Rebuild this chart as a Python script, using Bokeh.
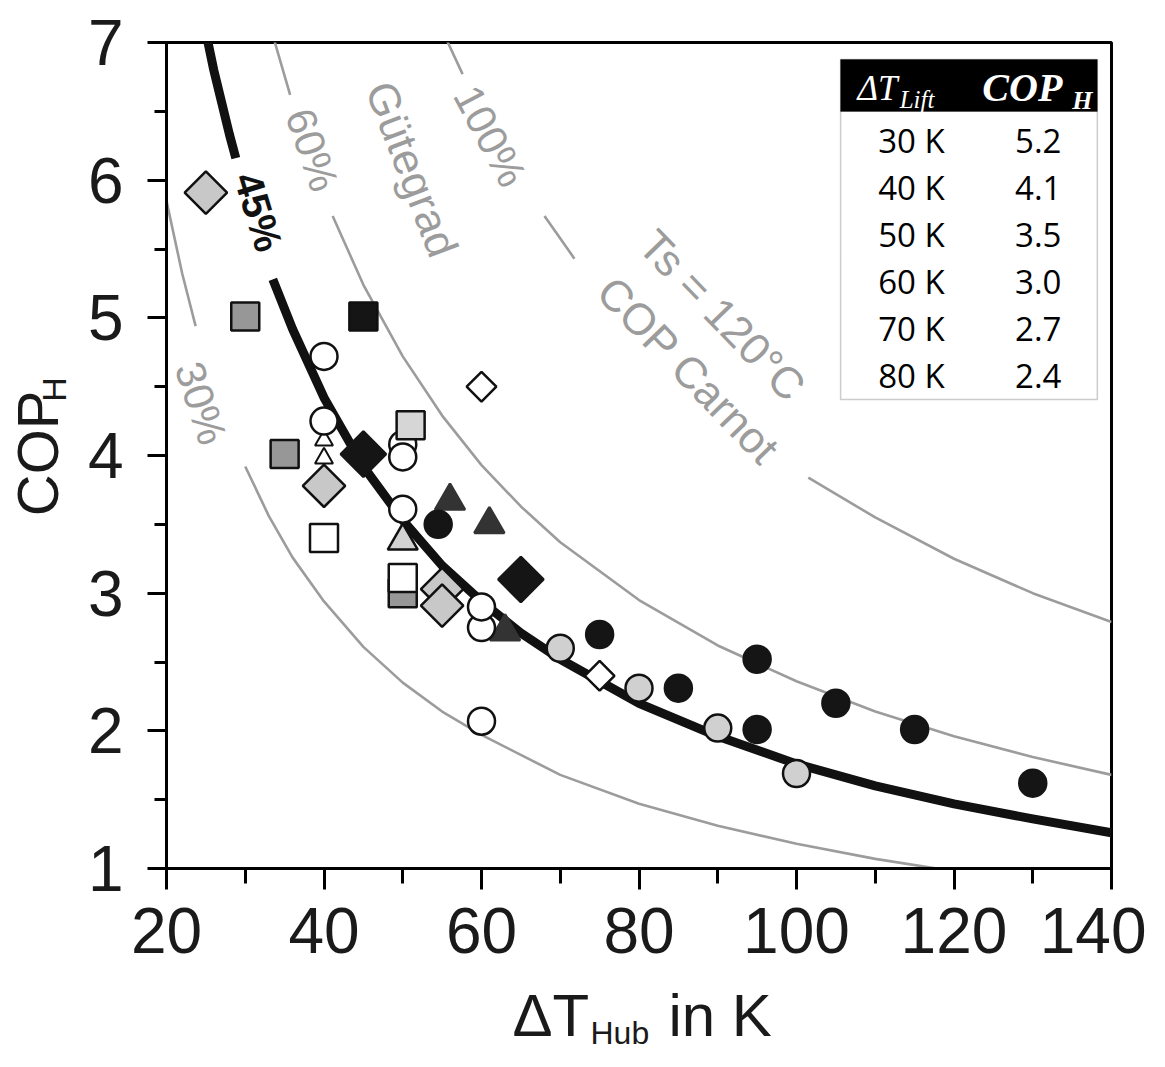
import math
from bokeh.plotting import figure
from bokeh.layouts import column, row
from bokeh.models import ColumnDataSource, Label, BoxAnnotation, SingleIntervalTicker, Range1d
from bokeh.core.properties import value
from bokeh.embed import file_html
from bokeh.resources import INLINE

nan = float("nan")

# ---- Guetegrad curves (Ts = 120 C); NaN marks a gap left for a label
eta30_x = [20, 22, 23.7, 26, 30, 33, 36, 40, 45, 50, 55, 60, 70, 80, 90, 100, 110, 120, 130, 140]
eta30_y = [5.85, 5.32, 4.94, nan, 3.92, 3.56, 3.26, 2.94, 2.61, 2.35, 2.14, 1.97, 1.68, 1.47, 1.31, 1.18, 1.07, 0.98, 0.90, 0.84]

eta45_x = [20, 22, 24, 26, 28, 28.8, 31, 33.5, 36, 40, 45, 50, 55, 60, 65, 70, 80, 90, 100, 110, 120, 130, 140]
eta45_y = [8.8, 8.0, 7.35, 6.8, 6.33, 6.16, nan, 5.28, 4.92, 4.42, 3.92, 3.53, 3.2, 2.94, 2.71, 2.52, 2.2, 1.96, 1.76, 1.6, 1.47, 1.36, 1.26]

eta60_x = [33, 35.7, 38, 41.1, 45, 50, 55, 60, 65, 70, 80, 90, 100, 110, 120, 130, 140]
eta60_y = [7.15, 6.62, nan, 5.74, 5.24, 4.72, 4.29, 3.93, 3.63, 3.37, 2.95, 2.62, 2.36, 2.14, 1.96, 1.81, 1.68]

carnot_x = [55, 57.6, 62, 68, 71.8, 85, 101.5, 110, 120, 130, 140]
carnot_y = [7.09, 6.77, nan, 5.74, 5.43, nan, 3.84, 3.55, 3.25, 3.0, 2.79]

# ---- measured heat pumps (Delta T_Hub in K, COP_H)
circ_white_x = [40, 40, 50, 50, 50, 60, 60, 60]
circ_white_y = [4.72, 4.25, 4.08, 3.99, 3.61, 2.75, 2.90, 2.07]
circ_lgray_x = [70, 80, 90, 100]
circ_lgray_y = [2.60, 2.31, 2.02, 1.69]
circ_black_x = [54.5, 75, 85, 95, 95, 105, 115, 130]
circ_black_y = [3.50, 2.70, 2.31, 2.52, 2.01, 2.20, 2.01, 1.62]

sq_dgray_x = [30, 35, 50]
sq_dgray_y = [5.01, 4.01, 3.00]
sq_black_x = [45]
sq_black_y = [5.01]
sq_white_x = [40, 50]
sq_white_y = [3.40, 3.11]
sq_lgray_x = [51]
sq_lgray_y = [4.22]

dia_lgray_x = [25, 40, 55, 55]
dia_lgray_y = [5.91, 3.78, 3.03, 2.91]
dia_black_x = [45, 65]
dia_black_y = [4.01, 3.10]
dia_white_x = [60, 75]
dia_white_y = [4.50, 2.40]

tri_white_x = [40, 40]
tri_white_y = [4.11, 3.98]
tri_lgray_x = [50]
tri_lgray_y = [3.38]
tri_dark_x = [56, 61, 63]
tri_dark_y = [3.67, 3.50, 2.72]

# ---- inset table
table_lift = ["30 K", "40 K", "50 K", "60 K", "70 K", "80 K"]
table_cop = ["5.2", "4.1", "3.5", "3.0", "2.7", "2.4"]

FONT = "Liberation Sans"
GRAY = "#9c9c9c"

LEFT_W = 84          # width of the strip holding the y title
P_BL, P_BT, P_BR, P_BB = 82, 42, 35, 113
FW, FH = 945, 826
P_W = P_BL + FW + P_BR
P_H = P_BT + FH + P_BB
BOT_H = 1051 - P_H

p = figure(frame_width=FW, frame_height=FH, min_border_left=P_BL, min_border_top=P_BT,
           min_border_right=P_BR, min_border_bottom=P_BB,
           x_range=Range1d(20, 140), y_range=Range1d(1, 7),
           output_backend="svg", toolbar_location=None)
p.grid.visible = False
p.outline_line_color = "black"
p.outline_line_width = 3
p.background_fill_color = "white"
p.border_fill_color = "white"

p.xaxis.ticker = SingleIntervalTicker(interval=20, num_minor_ticks=2)
p.yaxis.ticker = SingleIntervalTicker(interval=1, num_minor_ticks=2)
for ax in (p.xaxis, p.yaxis):
    ax.axis_line_width = 3
    ax.axis_line_color = "black"
    ax.major_tick_line_width = 3
    ax.minor_tick_line_width = 3
    ax.major_tick_in = 0
    ax.minor_tick_in = 0
    ax.major_label_text_font = FONT
    ax.major_label_text_font_size = "64px"
    ax.major_label_text_color = "#1a1a1a"
p.xaxis.major_tick_out = 21
p.xaxis.minor_tick_out = 15
p.xaxis.major_label_standoff = 18
p.yaxis.major_tick_out = 19
p.yaxis.minor_tick_out = 12
p.yaxis.major_label_standoff = 24

# curves
for cx, cy in ((eta30_x, eta30_y), (eta60_x, eta60_y), (carnot_x, carnot_y)):
    p.line(cx, cy, line_color=GRAY, line_width=2.6, line_join="round")
p.line(eta45_x, eta45_y, line_color="#111111", line_width=9, line_join="round")

# curve labels
def lab(x, y, txt, ang, size, color=GRAY, style="normal"):
    p.add_layout(Label(x=x, y=y, text=txt, angle=math.radians(ang), text_align="center",
                       text_baseline="middle", text_font=FONT, text_font_size=size,
                       text_color=color, text_font_style=style))

lab(24.4, 4.38, "30%", -72, "42px")
lab(31.7, 5.77, "45%", -73, "40px", color="#111111", style="bold")
lab(38.5, 6.22, "60%", -71, "42px")
lab(51.2, 6.08, "G\u00fctegrad", -69, "44px")
lab(61.1, 6.32, "100%", -62, "42px")
lab(90.6, 5.02, "Ts = 120\u00b0C", -46, "44px")
lab(86.3, 4.62, "COP Carnot", -46, "44px")

# markers
OL = "#111111"
LW = 2.5
p.scatter(sq_dgray_x, sq_dgray_y, marker="square", size=28, fill_color="#979797", line_color=OL, line_width=LW)
p.scatter(sq_black_x, sq_black_y, marker="square", size=28, fill_color="#151515", line_color=OL, line_width=LW)
p.scatter(sq_white_x, sq_white_y, marker="square", size=28, fill_color="white", line_color=OL, line_width=LW)
p.scatter(tri_white_x, tri_white_y, marker="triangle", size=18, fill_color="white", line_color=OL, line_width=2)
p.scatter(tri_lgray_x, tri_lgray_y, marker="triangle", size=30, fill_color="#d2d2d2", line_color=OL, line_width=LW)
p.scatter(tri_dark_x, tri_dark_y, marker="triangle", size=30, fill_color="#333333", line_color="#333333", line_width=LW)
p.scatter(circ_white_x, circ_white_y, marker="circle", size=27, fill_color="white", line_color=OL, line_width=LW)
p.scatter(circ_lgray_x, circ_lgray_y, marker="circle", size=27, fill_color="#d0d0d0", line_color=OL, line_width=LW)
p.scatter(circ_black_x, circ_black_y, marker="circle", size=27, fill_color="#151515", line_color="#151515", line_width=LW)
p.scatter(sq_lgray_x, sq_lgray_y, marker="square", size=28, fill_color="#d6d6d6", line_color=OL, line_width=LW)
p.scatter(dia_lgray_x, dia_lgray_y, marker="square", angle=math.pi / 4, size=30, fill_color="#c8c8c8", line_color=OL, line_width=LW)
p.scatter(dia_black_x, dia_black_y, marker="square", angle=math.pi / 4, size=32, fill_color="#151515", line_color="#151515", line_width=LW)
p.scatter(dia_white_x, dia_white_y, marker="square", angle=math.pi / 4, size=21, fill_color="white", line_color=OL, line_width=LW)

# inset table
T_LEFT, T_RIGHT, T_TOP, T_HEAD, T_BOTTOM = 105.6, 138.2, 6.876, 6.499, 4.407
p.add_layout(BoxAnnotation(left=T_LEFT, right=T_RIGHT, top=T_TOP, bottom=T_BOTTOM,
                           fill_color="white", fill_alpha=1, line_color="#555555", line_width=1.5,
                           level="underlay"))
p.add_layout(BoxAnnotation(left=T_LEFT, right=T_RIGHT, top=T_TOP, bottom=T_HEAD,
                           fill_color="black", fill_alpha=1, line_color="black", line_width=1,
                           level="underlay"))
row_y = [6.288 - 0.3415 * i for i in range(len(table_lift))]
tsrc = ColumnDataSource(dict(lift=table_lift, cop=table_cop, y=row_y))
p.text(x=114.6, y="y", text="lift", source=tsrc, text_align="center", text_baseline="middle",
       text_font=value("Open Sans"), text_font_size="33px", text_color="black")
p.text(x=130.7, y="y", text="cop", source=tsrc, text_align="center", text_baseline="middle",
       text_font=value("Open Sans"), text_font_size="33px", text_color="black")

def hdr(x, y, txt, size, style):
    p.text(x=[x], y=[y], text=[txt], text_align="left", text_baseline="middle",
           text_font=value("Liberation Serif"), text_font_size=size, text_color="white",
           text_font_style=style)

hdr(107.75, 6.666, "\u0394T", "35px", "italic")
hdr(113.1, 6.586, "Lift", "25px", "italic")
hdr(123.6, 6.673, "COP", "40px", "bold italic")
hdr(135.0, 6.579, "H", "26px", "bold italic")

# ---- y title strip (left)
py = figure(width=LEFT_W, height=P_H, x_range=Range1d(0, LEFT_W), y_range=Range1d(0, P_H),
            min_border_left=0, min_border_right=0, min_border_top=0, min_border_bottom=0,
            output_backend="svg", toolbar_location=None)
py.axis.visible = False
py.grid.visible = False
py.outline_line_color = None
py.add_layout(Label(x=37, y=P_H - 488, text="COP", angle=math.pi / 2, text_align="center",
                    text_baseline="middle", text_font=FONT, text_font_size="58px",
                    text_color="#1a1a1a"))
py.add_layout(Label(x=53, y=P_H - 412, text="H", angle=math.pi / 2, text_align="center",
                    text_baseline="middle", text_font=FONT, text_font_size="34px",
                    text_color="#1a1a1a"))

# ---- x title strip (bottom)
TOT_W = LEFT_W + P_W
px = figure(width=TOT_W, height=BOT_H, x_range=Range1d(0, TOT_W), y_range=Range1d(0, BOT_H),
            min_border_left=0, min_border_right=0, min_border_top=0, min_border_bottom=0,
            output_backend="svg", toolbar_location=None)
px.axis.visible = False
px.grid.visible = False
px.outline_line_color = None
y0 = P_H  # page y of the strip's top edge
def xt(x, mid_y, txt, size):
    px.add_layout(Label(x=x, y=BOT_H - (mid_y - y0), text=txt, text_align="left",
                        text_baseline="middle", text_font=FONT, text_font_size=size,
                        text_color="#1a1a1a"))
xt(512, 1015, "\u0394T", "60px")
xt(590, 1032, "Hub", "32px")
xt(668, 1015, "in K", "60px")

layout = column(row(py, p), px)
open("out.html", "w").write(file_html(layout, INLINE))
